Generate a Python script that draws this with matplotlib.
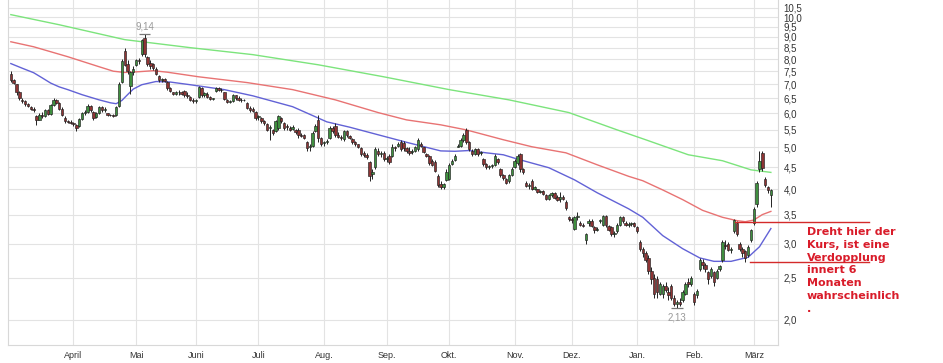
import matplotlib
matplotlib.use("Agg")
import matplotlib.pyplot as plt
import numpy as np

# Tageskerzen (Eröffnung, Hoch, Tief, Schluss)
opens = [7.40, 7.15, 7.00, 6.70, 6.45, 6.40, 6.30, 6.20, 6.15, 5.90,
         5.80, 5.95, 5.90, 6.10, 5.98, 6.28, 6.45, 6.35, 6.15, 5.85,
         5.75, 5.72, 5.68, 5.62, 5.60, 5.82, 6.00, 6.05, 6.25, 6.05,
         5.88, 6.00, 6.20, 6.10, 6.00, 5.95, 5.93, 5.95, 6.25, 7.10,
         8.35, 7.80, 6.95, 7.45, 7.75, 7.95, 8.20, 8.95, 8.10, 7.85,
         7.80, 7.60, 7.30, 7.15, 7.20, 7.10, 6.85, 6.70, 6.65, 6.70,
         6.72, 6.75, 6.60, 6.55, 6.45, 6.40, 6.55, 6.85, 6.60, 6.65,
         6.55, 6.48, 6.75, 6.85, 6.80, 6.70, 6.45, 6.38, 6.40, 6.60,
         6.50, 6.45, 6.42, 6.35, 6.18, 6.15, 6.05, 5.88, 5.85, 5.75,
         5.65, 5.55, 5.50, 5.45, 5.55, 5.85, 5.70, 5.60, 5.55, 5.52,
         5.50, 5.50, 5.35, 5.35, 5.15, 5.00, 5.05, 5.45, 5.80, 5.25,
         5.12, 5.15, 5.25, 5.55, 5.60, 5.35, 5.30, 5.22, 5.45, 5.32,
         5.22, 5.15, 5.08, 4.98, 4.85, 4.80, 4.62, 4.35, 4.50, 4.92,
         4.82, 4.85, 4.70, 4.78, 4.78, 5.00, 5.05, 5.15, 5.12, 4.98,
         4.92, 4.88, 4.92, 4.95, 5.10, 5.00, 4.82, 4.78, 4.65, 4.62,
         4.30, 4.12, 4.05, 4.20, 4.22, 4.58, 4.68, 5.02, 5.05, 5.20,
         5.50, 5.15, 4.92, 4.82, 4.95, 4.85, 4.70, 4.58, 4.50, 4.52,
         4.55, 4.70, 4.45, 4.32, 4.22, 4.18, 4.32, 4.50, 4.60, 4.82,
         4.45, 4.15, 4.08, 4.18, 4.02, 4.00, 3.95, 3.96, 3.88, 3.80,
         3.88, 3.92, 3.85, 3.80, 3.85, 3.75, 3.45, 3.42, 3.25, 3.45,
         3.35, 3.32, 3.05, 3.35, 3.38, 3.28, 3.22, 3.38, 3.32, 3.48,
         3.30, 3.28, 3.15, 3.20, 3.32, 3.45, 3.35, 3.32, 3.33, 3.34,
         3.28, 3.02, 2.92, 2.85, 2.78, 2.60, 2.50, 2.48, 2.30, 2.30,
         2.40, 2.32, 2.40, 2.25, 2.18, 2.20, 2.22, 2.30, 2.45, 2.42,
         2.30, 2.28, 2.62, 2.72, 2.68, 2.58, 2.52, 2.58, 2.50, 2.62,
         2.75, 2.98, 3.00, 2.90, 3.20, 3.35, 3.00, 2.92, 2.88, 2.82,
         3.05, 3.35, 3.70, 4.45, 4.85, 4.22, 4.05, 3.88]
highs = [7.50, 7.20, 7.00, 6.75, 6.50, 6.45, 6.35, 6.25, 6.20, 5.95,
         6.00, 6.05, 6.15, 6.12, 6.30, 6.50, 6.48, 6.38, 6.20, 5.90,
         5.80, 5.78, 5.72, 5.66, 5.85, 6.05, 6.10, 6.30, 6.28, 6.08,
         6.05, 6.25, 6.22, 6.20, 6.02, 5.98, 5.97, 6.25, 7.10, 8.00,
         8.50, 7.95, 7.50, 7.70, 8.00, 8.05, 8.90, 9.14, 8.15, 7.95,
         7.85, 7.65, 7.35, 7.25, 7.22, 7.12, 6.90, 6.72, 6.75, 6.78,
         6.75, 6.78, 6.70, 6.58, 6.50, 6.48, 6.95, 6.90, 6.72, 6.70,
         6.58, 6.52, 6.90, 6.88, 6.85, 6.72, 6.48, 6.42, 6.65, 6.62,
         6.58, 6.50, 6.48, 6.38, 6.22, 6.20, 6.08, 5.95, 5.88, 5.80,
         5.68, 5.62, 5.52, 5.80, 5.95, 5.88, 5.72, 5.65, 5.60, 5.62,
         5.52, 5.55, 5.40, 5.38, 5.18, 5.08, 5.45, 5.65, 5.95, 5.28,
         5.18, 5.22, 5.60, 5.60, 5.70, 5.42, 5.35, 5.50, 5.50, 5.35,
         5.25, 5.18, 5.10, 5.00, 4.90, 4.85, 4.65, 4.45, 5.00, 4.98,
         4.90, 4.90, 4.78, 4.82, 5.08, 5.05, 5.15, 5.20, 5.18, 5.02,
         5.00, 4.95, 5.05, 5.25, 5.15, 5.02, 4.85, 4.80, 4.70, 4.68,
         4.35, 4.18, 4.15, 4.45, 4.60, 4.70, 4.82, 5.10, 5.25, 5.40,
         5.55, 5.18, 4.95, 4.98, 4.98, 4.90, 4.72, 4.60, 4.55, 4.58,
         4.82, 4.72, 4.48, 4.35, 4.25, 4.35, 4.50, 4.70, 4.82, 4.85,
         4.48, 4.18, 4.15, 4.22, 4.08, 4.02, 3.98, 3.98, 3.90, 3.90,
         3.95, 3.95, 3.88, 3.95, 3.88, 3.78, 3.48, 3.45, 3.48, 3.55,
         3.38, 3.35, 3.18, 3.42, 3.42, 3.30, 3.28, 3.42, 3.50, 3.50,
         3.32, 3.30, 3.20, 3.35, 3.48, 3.48, 3.38, 3.36, 3.36, 3.36,
         3.30, 3.05, 2.95, 2.88, 2.82, 2.65, 2.55, 2.52, 2.45, 2.42,
         2.45, 2.38, 2.42, 2.28, 2.22, 2.25, 2.35, 2.45, 2.50, 2.52,
         2.32, 2.36, 2.78, 2.76, 2.70, 2.60, 2.65, 2.60, 2.62, 2.68,
         3.05, 3.05, 3.02, 2.95, 3.42, 3.38, 3.02, 2.95, 2.90, 2.98,
         3.25, 3.65, 4.18, 4.92, 4.90, 4.28, 4.08, 4.00]
lows = [7.10, 7.00, 6.60, 6.45, 6.35, 6.25, 6.20, 6.10, 6.05, 5.62,
        5.78, 5.85, 5.88, 5.95, 5.95, 6.25, 6.30, 6.10, 5.90, 5.70,
        5.68, 5.65, 5.60, 5.45, 5.58, 5.80, 5.95, 6.02, 6.05, 5.80,
        5.85, 5.98, 6.05, 6.05, 5.92, 5.90, 5.88, 5.92, 6.20, 7.05,
        7.70, 7.40, 6.65, 7.35, 7.70, 7.80, 8.15, 8.10, 7.70, 7.60,
        7.55, 7.35, 7.10, 7.10, 7.10, 6.80, 6.70, 6.60, 6.60, 6.62,
        6.62, 6.55, 6.52, 6.40, 6.35, 6.35, 6.50, 6.55, 6.55, 6.50,
        6.45, 6.42, 6.72, 6.75, 6.72, 6.42, 6.35, 6.32, 6.38, 6.45,
        6.40, 6.38, 6.40, 6.12, 6.05, 6.05, 5.80, 5.80, 5.70, 5.62,
        5.45, 5.20, 5.35, 5.42, 5.50, 5.70, 5.50, 5.50, 5.45, 5.48,
        5.38, 5.25, 5.28, 5.22, 4.90, 4.92, 5.02, 5.42, 5.15, 5.05,
        5.05, 5.08, 5.22, 5.40, 5.28, 5.25, 5.20, 5.18, 5.30, 5.22,
        5.10, 5.05, 4.98, 4.78, 4.75, 4.70, 4.18, 4.22, 4.45, 4.78,
        4.75, 4.65, 4.62, 4.58, 4.75, 4.92, 5.00, 4.92, 4.92, 4.85,
        4.80, 4.82, 4.88, 4.92, 5.00, 4.85, 4.75, 4.55, 4.52, 4.38,
        4.05, 4.02, 4.00, 4.18, 4.20, 4.55, 4.65, 5.00, 5.02, 5.15,
        5.10, 4.90, 4.78, 4.80, 4.78, 4.80, 4.52, 4.45, 4.45, 4.48,
        4.52, 4.58, 4.28, 4.20, 4.12, 4.15, 4.30, 4.48, 4.55, 4.40,
        4.35, 4.05, 4.02, 3.98, 3.98, 3.92, 3.92, 3.88, 3.78, 3.78,
        3.85, 3.80, 3.76, 3.75, 3.78, 3.58, 3.38, 3.35, 3.22, 3.40,
        3.30, 3.28, 3.00, 3.30, 3.28, 3.18, 3.20, 3.35, 3.30, 3.28,
        3.20, 3.12, 3.10, 3.18, 3.30, 3.35, 3.30, 3.28, 3.30, 3.28,
        3.18, 2.88, 2.80, 2.72, 2.55, 2.42, 2.25, 2.25, 2.28, 2.25,
        2.32, 2.22, 2.22, 2.15, 2.13, 2.15, 2.20, 2.28, 2.38, 2.40,
        2.16, 2.25, 2.60, 2.62, 2.58, 2.42, 2.50, 2.40, 2.48, 2.60,
        2.72, 2.92, 2.88, 2.85, 3.18, 3.12, 2.88, 2.80, 2.72, 2.80,
        3.02, 3.32, 3.65, 4.40, 4.42, 4.05, 3.92, 3.65]
closes = [7.15, 7.05, 6.70, 6.50, 6.40, 6.30, 6.25, 6.15, 6.10, 5.80,
          5.95, 5.90, 6.10, 5.98, 6.28, 6.45, 6.35, 6.15, 5.95, 5.75,
          5.72, 5.70, 5.65, 5.55, 5.82, 6.00, 6.05, 6.25, 6.10, 5.85,
          6.00, 6.20, 6.10, 6.15, 5.95, 5.93, 5.92, 6.20, 7.00, 7.90,
          7.75, 7.50, 7.45, 7.60, 7.95, 7.90, 8.85, 8.20, 7.78, 7.70,
          7.62, 7.40, 7.15, 7.20, 7.12, 6.85, 6.75, 6.65, 6.70, 6.72,
          6.65, 6.60, 6.58, 6.45, 6.40, 6.42, 6.88, 6.60, 6.68, 6.55,
          6.48, 6.50, 6.85, 6.80, 6.78, 6.48, 6.38, 6.40, 6.60, 6.50,
          6.45, 6.42, 6.45, 6.18, 6.10, 6.08, 5.85, 5.90, 5.75, 5.68,
          5.50, 5.58, 5.40, 5.75, 5.90, 5.75, 5.55, 5.58, 5.50, 5.58,
          5.42, 5.35, 5.32, 5.25, 4.98, 5.05, 5.40, 5.60, 5.25, 5.10,
          5.15, 5.18, 5.55, 5.45, 5.35, 5.30, 5.25, 5.45, 5.35, 5.25,
          5.15, 5.10, 5.02, 4.82, 4.80, 4.75, 4.30, 4.40, 4.95, 4.82,
          4.85, 4.70, 4.72, 4.62, 5.02, 4.98, 5.10, 4.95, 4.98, 4.90,
          4.85, 4.92, 5.02, 5.20, 5.05, 4.88, 4.78, 4.60, 4.55, 4.42,
          4.10, 4.05, 4.12, 4.40, 4.55, 4.65, 4.78, 5.05, 5.20, 5.35,
          5.15, 4.95, 4.82, 4.95, 4.82, 4.88, 4.58, 4.50, 4.52, 4.55,
          4.78, 4.62, 4.32, 4.25, 4.15, 4.32, 4.45, 4.65, 4.78, 4.45,
          4.40, 4.08, 4.10, 4.02, 4.05, 3.95, 3.96, 3.90, 3.80, 3.88,
          3.92, 3.82, 3.78, 3.85, 3.80, 3.62, 3.42, 3.40, 3.45, 3.48,
          3.32, 3.30, 3.15, 3.38, 3.30, 3.22, 3.25, 3.40, 3.48, 3.32,
          3.22, 3.15, 3.18, 3.32, 3.45, 3.38, 3.32, 3.33, 3.34, 3.30,
          3.20, 2.92, 2.85, 2.75, 2.60, 2.48, 2.30, 2.32, 2.42, 2.40,
          2.35, 2.28, 2.25, 2.18, 2.20, 2.18, 2.32, 2.42, 2.42, 2.50,
          2.20, 2.33, 2.75, 2.68, 2.62, 2.48, 2.62, 2.45, 2.60, 2.66,
          3.02, 2.96, 2.90, 2.92, 3.40, 3.15, 2.92, 2.85, 2.78, 2.95,
          3.22, 3.60, 4.15, 4.65, 4.48, 4.10, 3.98, 3.98]

ma_blau_tag = [0, 4, 8, 11, 14, 17, 20, 25, 31, 35, 37, 39, 41, 43, 46, 51, 56,
               63, 75, 85, 99, 111, 119, 129, 139, 151, 156, 161, 167, 173, 178,
               189, 198, 206, 217, 222, 229, 236, 242, 247, 253, 259, 263, 267]
ma_blau = [7.81, 7.62, 7.44, 7.24, 7.04, 6.90, 6.80, 6.62, 6.44, 6.34, 6.31,
           6.42, 6.62, 6.82, 6.98, 7.10, 7.08, 6.98, 6.80, 6.58, 6.21, 5.73,
           5.57, 5.35, 5.14, 4.91, 4.90, 4.92, 4.86, 4.81, 4.70, 4.49, 4.21,
           3.93, 3.61, 3.45, 3.13, 2.92, 2.78, 2.73, 2.73, 2.79, 2.95, 3.25]
ma_rot_tag = [0, 8, 20, 31, 36, 40, 45, 50, 55, 66, 83, 99, 114, 129, 139, 151,
              160, 173, 183, 195, 206, 217, 222, 229, 236, 243, 250, 255, 258,
              261, 264, 267]
ma_rot = [8.77, 8.54, 8.10, 7.68, 7.50, 7.45, 7.48, 7.52, 7.46, 7.28, 7.06,
          6.80, 6.44, 6.02, 5.79, 5.64, 5.49, 5.21, 5.02, 4.86, 4.56, 4.29,
          4.19, 3.99, 3.79, 3.58, 3.45, 3.39, 3.37, 3.40, 3.50, 3.56]
ma_gruen_tag = [0, 17, 40, 63, 85, 108, 131, 154, 175, 196, 213, 223, 238, 250,
                260, 267]
ma_gruen = [10.13, 9.60, 8.87, 8.50, 8.19, 7.76, 7.28, 6.80, 6.44, 6.02, 5.49,
            5.21, 4.81, 4.66, 4.44, 4.38]

# Monatsanfänge als Handelstag-Index
monat_tag = [22, 44, 65, 87, 110, 132, 154, 177, 197, 220, 240, 261]
monate = ['April', 'Mai', 'Juni', 'Juli', 'Aug.', 'Sep.', 'Okt.', 'Nov.',
          'Dez.', 'Jan.', 'Feb.', 'März']
y_ticks = [2.0, 2.5, 3.0, 3.5, 4.0, 4.5, 5.0, 5.5, 6.0, 6.5, 7.0, 7.5, 8.0,
           8.5, 9.0, 9.5, 10.0, 10.5]

# Markierungen für die Prognose
linie_oben = 3.37
linie_unten = 2.72
kommentar = "Dreht hier der\nKurs, ist eine\nVerdopplung\ninnert 6\nMonaten\nwahrscheinlich\n."

o = np.array(opens)
h = np.array(highs)
l = np.array(lows)
c = np.array(closes)
x = np.arange(len(c))

fig = plt.figure(figsize=(9.43, 3.63), dpi=100)
ax = fig.add_axes([8 / 943, 18 / 363, 770 / 943, 345 / 363])
ax.set_yscale('log')
ax.set_ylim(1.75, 10.95)
ax.set_xlim(-1, 269.5)

# Gitter
for t in y_ticks:
    ax.axhline(t, color='#e3e3e3', lw=0.8, zorder=0)
for i in monat_tag:
    ax.axvline(i, color='#e3e3e3', lw=0.8, zorder=0)

# gleitende Durchschnitte
ax.plot(ma_gruen_tag, ma_gruen, color='#7ce47c', lw=1.0, zorder=1)
ax.plot(ma_rot_tag, ma_rot, color='#e87373', lw=1.0, zorder=1)
ax.plot(ma_blau_tag, ma_blau, color='#6262d6', lw=1.0, zorder=1)

# Kerzen
steigt = c >= o
farben = np.where(steigt, '#3f8f3f', '#8e3434')
ax.vlines(x, l, h, color='#222222', lw=0.7, zorder=2)
unten = np.minimum(o, c)
hoehe = np.maximum(np.abs(c - o), 0.01)
ax.bar(x, hoehe, bottom=unten, width=0.85, color=farben, edgecolor='#222222',
       linewidth=0.45, zorder=3)

# Hoch und Tief
i_hoch = int(np.argmax(h))
i_tief = int(np.argmin(l))
ax.hlines(h[i_hoch], i_hoch - 2, i_hoch + 2, color='#777777', lw=0.9, zorder=4)
ax.hlines(l[i_tief], i_tief - 2, i_tief + 2, color='#777777', lw=0.9, zorder=4)
ax.annotate(f"{h[i_hoch]:.2f}".replace('.', ','), (i_hoch, h[i_hoch]),
            xytext=(0, 2), textcoords='offset points', ha='center', va='bottom',
            fontsize=7, color='#999999', family='Liberation Sans')
ax.annotate(f"{l[i_tief]:.2f}".replace('.', ','), (i_tief, l[i_tief]),
            xytext=(0, -3), textcoords='offset points', ha='center', va='top',
            fontsize=7, color='#999999', family='Liberation Sans')

# Achsen
ax.yaxis.tick_right()
ax.set_yticks(y_ticks)
ax.set_yticklabels([f"{t:.1f}".replace('.', ',') for t in y_ticks])
ax.yaxis.set_minor_locator(matplotlib.ticker.NullLocator())
ax.set_xticks(monat_tag)
ax.set_xticklabels(monate)
ax.tick_params(axis='y', length=0, pad=4, labelsize=7, labelcolor='#333333')
ax.tick_params(axis='x', length=0, pad=4, labelsize=6.5, labelcolor='#333333')
for lab in ax.get_yticklabels() + ax.get_xticklabels():
    lab.set_family('Liberation Sans')
for s in ['left', 'right', 'bottom']:
    ax.spines[s].set_color('#d8d8d8')
ax.spines['top'].set_visible(False)

# Kommentar mit Linien
ax.plot([254.5, 301.5], [linie_oben, linie_oben], color='#d42a2a', lw=1.0,
        clip_on=False, zorder=5)
ax.plot([259.5, 301.5], [linie_unten, linie_unten], color='#d42a2a', lw=1.0,
        clip_on=False, zorder=5)
fig.text(807 / 943, 1 - 227 / 363, kommentar, color='#d91c2a', fontsize=8,
         fontweight='bold', va='top', ha='left', linespacing=1.35,
         family='DejaVu Sans')

fig.savefig('out.png', dpi=100)
